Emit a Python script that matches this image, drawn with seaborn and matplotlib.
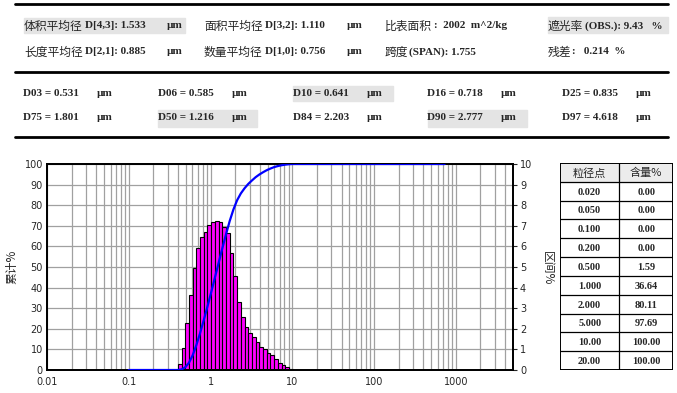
import matplotlib
matplotlib.use('Agg')
import matplotlib.pyplot as plt
from matplotlib.patches import Rectangle
from matplotlib.lines import Line2D
import seaborn as sns
import numpy as np

# ---- summary block ----
stat_names = ['体积平均径', '面积平均径', '比表面积', '遮光率',
              '长度平均径', '数量平均径', '跨度', '残差']
stat_texts = ['D[4,3]: 1.533', 'D[3,2]: 1.110', ':  2002  m^2/kg', '(OBS.): 9.43   %',
              'D[2,1]: 0.885', 'D[1,0]: 0.756', '(SPAN): 1.755', ':   0.214  %']
stat_units = ['µm', 'µm', '', '', 'µm', 'µm', '', '']

d_labels = ['D03', 'D06', 'D10', 'D16', 'D25', 'D75', 'D50', 'D84', 'D90', 'D97']
d_values = [0.531, 0.585, 0.641, 0.718, 0.835, 1.801, 1.216, 2.203, 2.777, 4.618]

# ---- table ----
table_sizes = ['0.020', '0.050', '0.100', '0.200', '0.500', '1.000', '2.000', '5.000', '10.00', '20.00']
table_content = [0.00, 0.00, 0.00, 0.00, 1.59, 36.64, 80.11, 97.69, 100.00, 100.00]

# ---- distribution (µm, %) ----
bin_edges = [0.398, 0.442, 0.490, 0.544, 0.604, 0.670, 0.744, 0.826, 0.917, 1.018,
             1.130, 1.254, 1.392, 1.545, 1.715, 1.904, 2.113, 2.346, 2.604, 2.890,
             3.208, 3.561, 3.953, 4.388, 4.870, 5.406, 6.001, 6.661, 7.394, 8.207,
             9.110, 10.11]
bin_percent = [0.29, 1.05, 2.30, 3.66, 4.94, 5.91, 6.47, 6.71, 7.05, 7.18,
               7.25, 7.17, 6.96, 6.63, 5.66, 4.56, 3.32, 2.59, 2.10, 1.78,
               1.59, 1.37, 1.13, 1.02, 0.84, 0.73, 0.52, 0.36, 0.24, 0.13,
               0.05]

cum_size = [0.1, 0.398, 0.442, 0.490, 0.544, 0.604, 0.670, 0.744, 0.826, 0.917,
            1.018, 1.130, 1.254, 1.392, 1.545, 1.715, 1.904, 2.113, 2.346, 2.604,
            2.890, 3.208, 3.561, 3.953, 4.388, 4.870, 5.406, 6.001, 6.661, 7.394,
            8.207, 9.110, 10.11, 730]
cum_percent = [0, 0, 0.29, 1.3, 3.5, 7.1, 12.0, 17.8, 24.2, 30.8,
               37.7, 44.8, 51.9, 59.0, 65.8, 72.3, 77.9, 82.4, 85.7, 88.2,
               90.3, 92.0, 93.6, 94.9, 96.0, 97.0, 97.8, 98.5, 99.0, 99.4,
               99.7, 99.9, 100, 100]

sns.set_style('white')
plt.rcParams['font.family'] = ['DejaVu Sans']

W, H = 677, 393
fig = plt.figure(figsize=(W / 100, H / 100), dpi=100)


def fx(x):
    return x / W


def fy(y):
    return 1 - y / H


CJK = ['Noto Sans CJK SC', 'DejaVu Sans']
LAT = ['Liberation Serif', 'Noto Sans CJK SC']


def put(x, y, s, family, size=8, weight='normal', ha='left'):
    fig.text(fx(x), fy(y), s, family=family, fontsize=size, weight=weight,
             va='center', ha=ha)


def shade(x0, y0, x1, y1):
    fig.add_artist(Rectangle((fx(x0), fy(y1)), fx(x1) - fx(x0), fy(y0) - fy(y1),
                             transform=fig.transFigure, color='#e4e4e4', zorder=0))


def hline(y, lw=2.0):
    fig.add_artist(Line2D([fx(15), fx(668)], [fy(y), fy(y)], transform=fig.transFigure,
                          color='black', lw=lw))


hline(4)
hline(72)
hline(137)

# highlighted cells
shade(24, 18, 185, 33)
shade(548, 17, 668, 33)
shade(293, 86, 393, 101)
shade(158, 110, 257, 127)
shade(428, 110, 527, 127)

# summary rows
name_x = [24, 204, 385, 548]
row_y = [26, 52]
for i, (name, txt, unit) in enumerate(zip(stat_names, stat_texts, stat_units)):
    x = name_x[i % 4]
    y = row_y[i // 4]
    put(x, y, name, CJK, size=8.5)
    put(x + 12.2 * len(name), y, txt, LAT, size=8, weight='bold')
    if unit:
        put(x + 143, y, unit, LAT, size=8, weight='bold')

# D-values rows
d_x = [23, 158, 293, 427, 562]
d_y = [93, 118]
for i, (lab, val) in enumerate(zip(d_labels, d_values)):
    x = d_x[i % 5]
    y = d_y[i // 5]
    put(x, y, f'{lab} = {val:.3f}', LAT, size=8, weight='bold')
    put(x + 74, y, 'µm', LAT, size=8, weight='bold')

# ---- chart ----
ax = fig.add_axes([fx(47), fy(370), (513 - 47) / W, (370 - 164) / H])
axc = ax.twinx()
ax.set_xscale('log')
ax.bar(bin_edges[:-1], bin_percent, width=np.diff(bin_edges), align='edge',
       color='#ff00ff', edgecolor='black', linewidth=0.8, zorder=2)
ax.set_xlim(0.01, 5000)
ax.set_ylim(0, 10)
ax.set_yticks(range(0, 11))
ax.set_xticks([0.01, 0.1, 1, 10, 100, 1000])
ax.set_xticklabels(['0.01', '0.1', '1', '10', '100', '1000'])
ax.grid(True, which='both', axis='x', color='#a0a0a0', lw=0.9)
ax.grid(True, which='major', axis='y', color='#a0a0a0', lw=0.9)
ax.set_axisbelow(True)
ax.tick_params(axis='x', which='both', length=0, labelsize=7, pad=5)

sns.lineplot(x=cum_size, y=cum_percent, ax=axc, color='#0000ff', linewidth=1.6,
             sort=False, zorder=3)
axc.set_ylim(0, 100)
axc.set_yticks(range(0, 101, 10))
axc.set_ylabel('')

# cumulative scale on the left, interval scale on the right
ax.yaxis.set_ticks_position('right')
ax.tick_params(axis='y', which='both', length=3, labelsize=7, right=True, left=False,
               labelright=True, labelleft=False, pad=2)
axc.yaxis.set_ticks_position('left')
axc.tick_params(axis='y', length=0, labelsize=7, pad=3, left=True, right=False,
                labelleft=True, labelright=False)

for a in (ax, axc):
    for sp in a.spines.values():
        sp.set_color('black')
        sp.set_linewidth(1.3)

fig.text(fx(12), fy(267), '累计%', rotation=90, family=CJK, fontsize=8.5,
         va='center', ha='center')
fig.text(fx(547), fy(268), '区间%', rotation=-90, family=CJK, fontsize=8.5,
         va='center', ha='center')

# ---- table ----
tax = fig.add_axes([fx(560), fy(370), (673 - 560) / W, (370 - 163) / H])
tax.set_xlim(0, 2)
tax.set_ylim(11, 0)
tax.axis('off')
tax.add_patch(Rectangle((0, 0), 2, 1, color='#ececec', zorder=0))
for r in range(1, 11):
    tax.plot([0, 2], [r, r], color='black', lw=0.9)
tax.plot([1.05, 1.05], [0, 11], color='black', lw=0.9)
tax.add_patch(Rectangle((0, 0), 2, 11, fill=False, edgecolor='black', lw=1.4))
tax.text(0.525, 0.55, '粒径点', family=CJK, fontsize=8, ha='center', va='center')
tax.text(1.525, 0.55, '含量%', family=CJK, fontsize=8, ha='center', va='center')
for r, (s, c) in enumerate(zip(table_sizes, table_content)):
    tax.text(0.525, r + 1.55, s, family=LAT, fontsize=7.5, weight='bold',
             ha='center', va='center')
    tax.text(1.525, r + 1.55, f'{c:.2f}', family=LAT, fontsize=7.5, weight='bold',
             ha='center', va='center')

fig.savefig('out.png', dpi=100)
